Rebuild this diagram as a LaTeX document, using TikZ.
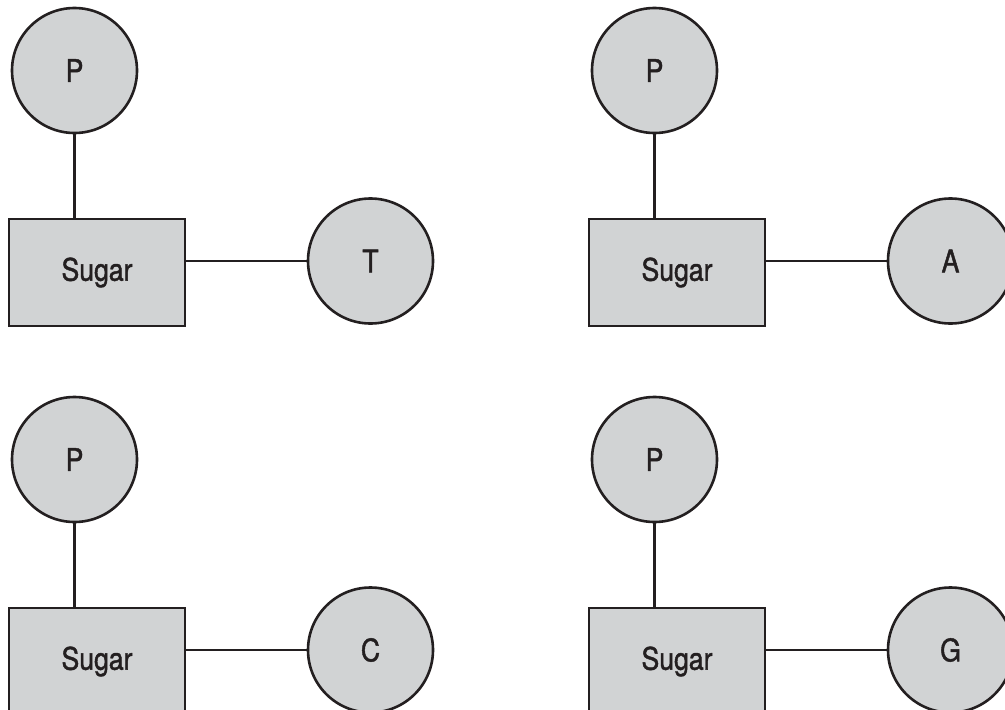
\documentclass[tikz,border=0pt]{standalone}
\usepackage{fontspec}
\setmainfont{TeX Gyre Heros}[FakeStretch=0.86, FakeBold=1.4]
\definecolor{partfill}{RGB}{209,211,212}
\definecolor{partline}{RGB}{35,31,32}
\tikzset{
  part/.style={draw=partline, fill=partfill, line width=2.6pt, inner sep=0pt,
    font=\fontsize{31}{37}\selectfont, text=partline},
  ball/.style={part, circle, minimum size=125pt},
  sugarbox/.style={part, rectangle, minimum width=176pt, minimum height=107pt},
  bond/.style={draw=partline, line width=2.4pt}
}
\begin{document}
\begin{tikzpicture}[x=1pt, y=-1pt]
\useasboundingbox (0,0) rectangle (1005,710);
\clip (0,0) rectangle (1005,710);
% one nucleotide: phosphate above, sugar, base to the right
\foreach \dx/\dy/\base/\id in {0/0/T/a, 580/0/A/b, 0/389/C/c, 580/389/G/d} {
  \begin{scope}[shift={(\dx,\dy)}]
    \node[ball] (p\id) at (74.5,70.5) {P};
    \node[sugarbox] (s\id) at (97,272.5) {Sugar};
    \node[ball] (n\id) at (370.5,261) {\base};
    \draw[bond] (p\id.south) -- (p\id.south |- s\id.north);
    \draw[bond] (s\id.east |- n\id.west) -- (n\id.west);
  \end{scope}
}
\end{tikzpicture}
\end{document}
